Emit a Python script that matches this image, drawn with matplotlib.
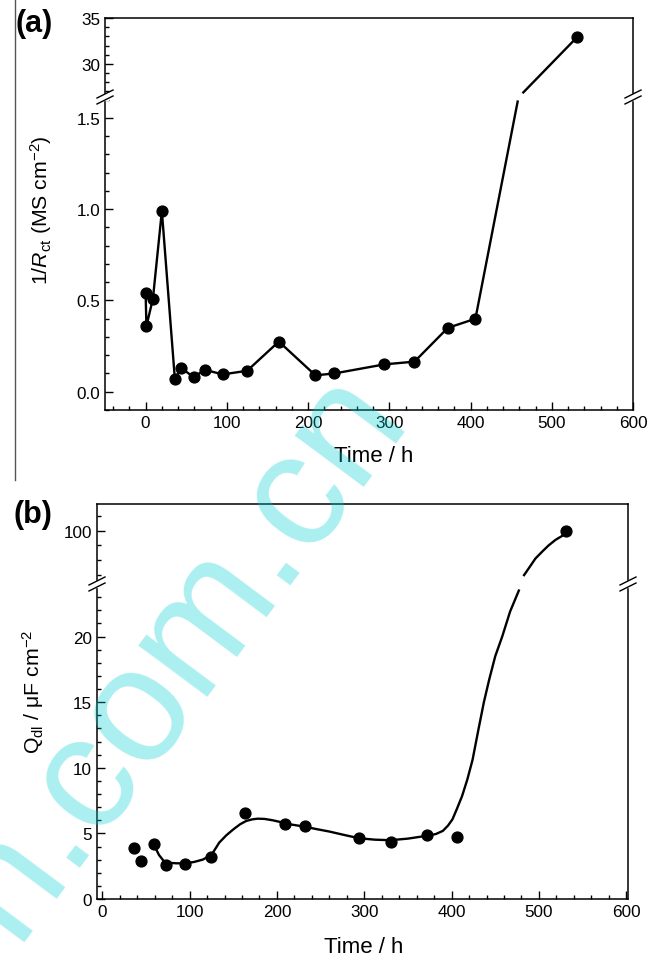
import matplotlib
matplotlib.use("Agg")
import matplotlib.pyplot as plt
from matplotlib.lines import Line2D
from matplotlib.patches import Rectangle
from matplotlib.ticker import MultipleLocator, FormatStrFormatter

# ---- panel (a): 1/Rct vs time ----
a_time = [0, 1, 9, 20, 36, 44, 59, 73, 95, 125, 164, 209, 232, 294, 331, 372, 406, 531]
a_inv_rct = [0.54, 0.36, 0.51, 0.99, 0.07, 0.13, 0.08, 0.12, 0.095, 0.115, 0.275,
             0.09, 0.10, 0.15, 0.165, 0.35, 0.40, 32.9]
# line leaving the last low point, across the axis break
a_link_lo_t = [406, 458]
a_link_lo_v = [0.40, 1.59]
a_link_hi_t = [465, 531]
a_link_hi_v = [26.9, 32.9]

# ---- panel (b): Qdl vs time ----
b_time = [36, 44, 59, 73, 95, 125, 164, 209, 232, 294, 331, 372, 406, 531]
b_qdl = [3.85, 2.91, 4.18, 2.6, 2.66, 3.21, 6.53, 5.74, 5.57, 4.63, 4.38, 4.86, 4.76, 100]
# smooth guide curve
fit_lo_t = [59, 65, 71, 78, 85, 95, 105, 115, 125, 134, 142, 150, 158, 165, 172, 178, 186,
            195, 205, 214, 231, 245, 260, 277, 294, 312, 330, 350, 371, 382, 390, 396, 401,
            406, 412, 418, 424, 431, 437, 443, 450, 458, 467, 477]
fit_lo_v = [4.15, 3.35, 2.85, 2.75, 2.72, 2.72, 2.82, 3.0, 3.35, 4.3, 4.85, 5.3, 5.7, 5.95,
            6.07, 6.12, 6.1, 6.0, 5.85, 5.7, 5.52, 5.33, 5.14, 4.88, 4.63, 4.52, 4.48, 4.6,
            4.81, 4.95, 5.19, 5.6, 6.07, 6.85, 7.84, 9.1, 10.6, 13.0, 15.0, 16.7, 18.5, 20.0,
            21.9, 23.5]
fit_hi_t = [483, 490, 496, 504, 511, 519, 527, 531]
fit_hi_v = [85.0, 88.0, 90.6, 93.0, 95.0, 96.9, 98.3, 99.6]

W, H = 662, 962
plt.rcParams['font.family'] = ['Liberation Sans', 'DejaVu Sans']
plt.rcParams['mathtext.fontset'] = 'custom'
plt.rcParams['mathtext.rm'] = 'Liberation Sans'
plt.rcParams['mathtext.it'] = 'Liberation Sans:italic'
plt.rcParams['axes.linewidth'] = 1.1

fig = plt.figure(figsize=(W / 100, H / 100), dpi=100)


def px(x, y):
    """pixel (from top-left) -> figure fraction"""
    return x / W, 1 - y / H


def broken_axes(left, right, top, brk, bottom):
    ax_hi = fig.add_axes([left / W, 1 - brk / H, (right - left) / W, (brk - top) / H])
    ax_lo = fig.add_axes([left / W, 1 - bottom / H, (right - left) / W, (bottom - brk) / H])
    ax_hi.spines['bottom'].set_visible(False)
    ax_lo.spines['top'].set_visible(False)
    for ax in (ax_hi, ax_lo):
        ax.tick_params(which='both', direction='in', top=False, right=False,
                       labelsize=12.3, width=1.0)
        ax.tick_params(which='major', length=6)
        ax.tick_params(which='minor', length=3)
    ax_hi.tick_params(which='both', bottom=False, labelbottom=False)
    # break marks on both vertical spines
    for x0 in (left, right):
        fig.add_artist(Rectangle(px(x0 - 3, brk + 3), 6 / W, 6 / H,
                                 transform=fig.transFigure, color='white', zorder=5))
        for dy in (-3, 3):
            x1, y1 = px(x0 - 8, brk + dy + 4)
            x2, y2 = px(x0 + 8, brk + dy - 4)
            fig.add_artist(Line2D([x1, x2], [y1, y2], transform=fig.transFigure,
                                  color='black', lw=1.0, zorder=6))
    return ax_hi, ax_lo


mk = dict(marker='o', ms=7.8, color='black', mec='black')

# ---------------- (a) ----------------
a_hi, a_lo = broken_axes(105, 633, 19, 98, 411)
a_lo.plot(a_time[:-1], a_inv_rct[:-1], lw=1.7, **mk)
a_lo.plot(a_link_lo_t, a_link_lo_v, color='black', lw=1.7)
a_hi.plot(a_link_hi_t, a_link_hi_v, color='black', lw=1.7)
a_hi.plot(a_time[-1:], a_inv_rct[-1:], ls='none', **mk)

for ax in (a_hi, a_lo):
    ax.set_xlim(-50, 600)
    ax.xaxis.set_major_locator(MultipleLocator(100))
    ax.xaxis.set_minor_locator(MultipleLocator(20))
a_lo.set_ylim(-0.1, 1.615)
a_lo.yaxis.set_major_locator(MultipleLocator(0.5))
a_lo.yaxis.set_minor_locator(MultipleLocator(0.1))
a_lo.yaxis.set_major_formatter(FormatStrFormatter('%.1f'))
a_hi.set_ylim(26.4, 35)
a_hi.yaxis.set_major_locator(MultipleLocator(5))
a_hi.yaxis.set_minor_locator(MultipleLocator(1))

fig.text(*px(41, 210), r'1/$R_{\rm ct}$ (MS cm$^{-2}$)', rotation=90,
         ha='center', va='center', fontsize=15.3)
fig.text(*px(374, 457), 'Time / h', ha='center', va='center', fontsize=16)
fig.text(*px(34, 24), '(a)', ha='center', va='center', fontsize=22, fontweight='bold')

# ---------------- (b) ----------------
b_hi, b_lo = broken_axes(97, 628, 505, 585, 900)
b_lo.plot(b_time[:-1], b_qdl[:-1], ls='none', **mk)
b_lo.plot(fit_lo_t, fit_lo_v, color='black', lw=1.7)
b_hi.plot(fit_hi_t, fit_hi_v, color='black', lw=1.7)
b_hi.plot(b_time[-1:], b_qdl[-1:], ls='none', **mk)

for ax in (b_hi, b_lo):
    ax.set_xlim(-6, 602)
    ax.xaxis.set_major_locator(MultipleLocator(100))
    ax.xaxis.set_minor_locator(MultipleLocator(20))
b_lo.set_ylim(0, 24)
b_lo.yaxis.set_major_locator(MultipleLocator(5))
b_lo.yaxis.set_minor_locator(MultipleLocator(1))
b_hi.set_ylim(82, 109)
b_hi.yaxis.set_major_locator(MultipleLocator(100))
b_hi.yaxis.set_minor_locator(MultipleLocator(5))

fig.text(*px(33, 692), r'Q$_{\rm dl}$ / μF cm$^{-2}$', rotation=90,
         ha='center', va='center', fontsize=15.3)
fig.text(*px(364, 948), 'Time / h', ha='center', va='center', fontsize=16)
fig.text(*px(33, 515), '(b)', ha='center', va='center', fontsize=22, fontweight='bold')

# thin border line left of panel (a)
fig.add_artist(Line2D([15 / W, 15 / W], [1, 1 - 481 / H], transform=fig.transFigure,
                      color='#555555', lw=1.0))

# watermark
fig.text(*px(14, 943), 'n.com.cn', rotation=53.3, rotation_mode='anchor',
         ha='left', va='baseline', fontsize=117, color='#00CED1', alpha=0.33, zorder=20)

fig.savefig('out.png', dpi=100)
